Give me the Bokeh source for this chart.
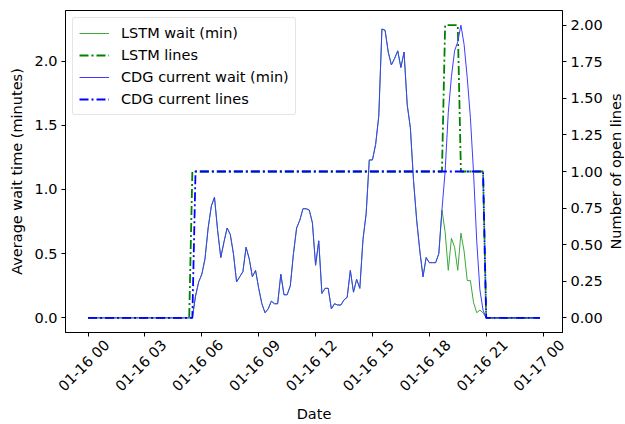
import numpy as np
import pandas as pd
from bokeh.plotting import figure
from bokeh.layouts import row
from bokeh.models import (Range1d, LinearAxis, FixedTicker, Legend, LegendItem,
                          ColumnDataSource, NumeralTickFormatter, Title)
from bokeh.embed import file_html
from bokeh.resources import INLINE

# ---------------- data ----------------
day = "2019-01-16"
times = pd.date_range(f"{day} 00:00", periods=144, freq="10min")

# wait values (minutes) every 10 min starting 05:40, ending 21:00; zero elsewhere
active_start = f"{day} 05:40"
cdg_wait_active = [
    0.17, 0.28, 0.34, 0.46, 0.70, 0.87, 0.94, 0.68, 0.47, 0.59, 0.70, 0.65,   # 05:40-07:30
    0.50, 0.28, 0.32, 0.36, 0.55, 0.46, 0.32, 0.37, 0.23, 0.11, 0.04, 0.07,   # 07:40-09:30
    0.13, 0.11, 0.11, 0.34, 0.18, 0.18, 0.25, 0.50, 0.70, 0.76, 0.85, 0.85,   # 09:40-11:30
    0.84, 0.74, 0.41, 0.60, 0.19, 0.23, 0.23, 0.07, 0.11, 0.10, 0.10, 0.14,   # 11:40-13:30
    0.16, 0.37, 0.20, 0.30, 0.23, 0.61, 0.81, 1.23, 1.23, 1.35, 1.57, 2.25,   # 13:40-15:30
    2.24, 2.07, 1.97, 2.02, 2.08, 1.95, 2.07, 1.66, 1.48, 1.07, 0.76, 0.52,   # 15:40-17:30
    0.32, 0.47, 0.43, 0.43, 0.43, 0.50, 0.84, 1.14, 1.60, 1.88, 2.08, 2.15,   # 17:40-19:30
    2.28, 2.13, 1.87, 1.56, 1.13, 0.60, 0.22, 0.06, 0.00,                     # 19:40-21:00
]
lstm_wait_active = [
    0.17, 0.28, 0.34, 0.46, 0.70, 0.87, 0.94, 0.68, 0.47, 0.59, 0.70, 0.65,
    0.50, 0.28, 0.32, 0.36, 0.55, 0.46, 0.32, 0.37, 0.23, 0.11, 0.04, 0.07,
    0.13, 0.11, 0.11, 0.34, 0.18, 0.18, 0.25, 0.50, 0.70, 0.76, 0.85, 0.85,
    0.84, 0.74, 0.41, 0.60, 0.19, 0.23, 0.23, 0.07, 0.11, 0.10, 0.10, 0.14,
    0.16, 0.37, 0.20, 0.30, 0.23, 0.61, 0.81, 1.23, 1.23, 1.35, 1.57, 2.25,
    2.24, 2.07, 1.97, 2.02, 2.08, 1.95, 2.07, 1.66, 1.48, 1.07, 0.76, 0.52,
    0.32, 0.47, 0.43, 0.43, 0.43, 0.50, 0.84, 0.67, 0.37, 0.62, 0.55, 0.37,
    0.66, 0.52, 0.29, 0.29, 0.12, 0.04, 0.06, 0.04, 0.00,
]
# number of open lines: (time from which the value holds, value)
cdg_lines_steps = [("00:00", 0), ("05:40", 1), ("21:00", 0)]
lstm_lines_steps = [("00:00", 0), ("05:30", 1), ("18:50", 2), ("19:40", 1), ("21:00", 0)]

left_ticks = [0.0, 0.5, 1.0, 1.5, 2.0]
right_ticks = [0.0, 0.25, 0.5, 0.75, 1.0, 1.25, 1.5, 1.75, 2.0]
x_ticks = pd.date_range(f"{day} 00:00", periods=9, freq="3h")

# ---------------- build full series ----------------
def pad(active):
    arr = np.zeros(len(times))
    i0 = times.get_loc(pd.Timestamp(active_start))
    arr[i0:i0 + len(active)] = active
    return arr

def steps(changes):
    arr = np.zeros(len(times))
    for hhmm, v in changes:
        arr[times >= pd.Timestamp(f"{day} {hhmm}")] = v
    return arr

src = ColumnDataSource(dict(
    t=times,
    cdg_wait=pad(cdg_wait_active),
    lstm_wait=pad(lstm_wait_active),
    cdg_lines=steps(cdg_lines_steps),
    lstm_lines=steps(lstm_lines_steps),
))

# matplotlib-like 5% margins
span = times[-1] - times[0]
x0 = times[0] - 0.05 * span
x1 = times[-1] + 0.05 * span
wmax = max(max(cdg_wait_active), max(lstm_wait_active))
ly0, ly1 = -0.05 * wmax, wmax * 1.05
FONT = "DejaVu Sans"
FS = "14.5px"
FW, FH = 497, 322
TOP, BOTTOM = 10, 88

p = figure(x_axis_type="datetime", frame_width=FW, frame_height=FH,
           min_border_left=65, min_border_top=TOP, min_border_right=36, min_border_bottom=BOTTOM,
           x_range=Range1d(x0, x1), y_range=Range1d(ly0, ly1),
           output_backend="svg", toolbar_location=None)
p.extra_y_ranges = {"lines": Range1d(-0.1, 2.1)}
p.xgrid.visible = False
p.ygrid.visible = False
p.outline_line_color = "black"
p.outline_line_width = 1
p.outline_line_alpha = 1
p.background_fill_color = "white"
p.border_fill_color = "white"

r1 = p.line("t", "lstm_wait", source=src, line_color="#3aa83a", line_width=1)
r2 = p.line("t", "lstm_lines", source=src, y_range_name="lines", line_color="green",
            line_width=1.8, line_dash="9 3 2 3")
r3 = p.line("t", "cdg_wait", source=src, line_color="#3d3dff", line_width=1)
r4 = p.line("t", "cdg_lines", source=src, y_range_name="lines", line_color="blue",
            line_width=1.8, line_dash="9 3 2 3")

# x axis: tick marks (minor ticks) at the real times; rotated labels centred under
# them like matplotlib's, by placing the (unmarked) major ticks a few pixels to the right
px_per_ms = FW / ((x1 - x0).value / 1e6)
tick_ms = [int(t.value // 1_000_000) for t in x_ticks]
shift_ms = int(round(19 / px_per_ms))
lab_ticks = [m + shift_ms for m in tick_ms]
xa = p.xaxis[0]
xa.ticker = FixedTicker(ticks=lab_ticks, minor_ticks=tick_ms)
xa.major_label_overrides = {m + shift_ms: t.strftime("%m-%d %H") for m, t in zip(tick_ms, x_ticks)}
xa.major_label_orientation = np.pi / 4
xa.major_tick_line_color = None
xa.major_tick_out = 4
xa.major_tick_in = 0
xa.minor_tick_line_color = "black"
xa.minor_tick_out = 4
xa.minor_tick_in = 0
xa.major_label_standoff = 6
xa.axis_label = "Date"
xa.axis_label_standoff = 3

la = p.yaxis[0]
la.ticker = FixedTicker(ticks=left_ticks)
la.formatter = NumeralTickFormatter(format="0.0")
la.axis_label = "Average wait time (minutes)"
la.axis_label_standoff = 6

raxis = LinearAxis(y_range_name="lines", ticker=FixedTicker(ticks=right_ticks),
                   formatter=NumeralTickFormatter(format="0.00"))
p.add_layout(raxis, "right")

for ax in [xa, la, raxis]:
    ax.axis_line_color = "black"
    ax.major_label_text_font = FONT
    ax.major_label_text_font_size = FS
    ax.major_label_text_color = "black"
    ax.axis_label_text_font = FONT
    ax.axis_label_text_font_size = FS
    ax.axis_label_text_font_style = "normal"
    ax.axis_label_text_color = "black"
for ax in [la, raxis]:
    ax.major_tick_line_color = "black"
    ax.major_tick_out = 4
    ax.major_tick_in = 0
    ax.minor_tick_out = 0
    ax.minor_tick_in = 0
    ax.major_label_standoff = 4

legend = Legend(items=[
    LegendItem(label="LSTM wait (min)", renderers=[r1]),
    LegendItem(label="LSTM lines", renderers=[r2]),
    LegendItem(label="CDG current wait (min)", renderers=[r3]),
    LegendItem(label="CDG current lines", renderers=[r4]),
], location="top_left")
legend.margin = 7
legend.padding = 6
legend.spacing = 4
legend.glyph_width = 30
legend.glyph_height = 18
legend.label_height = 18
legend.label_standoff = 12
legend.label_text_font = FONT
legend.label_text_font_size = FS
legend.label_text_color = "black"
legend.border_line_color = "#cccccc"
legend.border_line_width = 1
legend.background_fill_alpha = 0.8
if "border_radius" in legend.properties():
    legend.border_radius = 3
p.add_layout(legend)

# right-hand axis title, reading bottom-to-top as in the reference: a narrow strip
# whose left-side title sits right of the plot
rtitle = Title(text="Number of open lines", align="center", text_font=FONT,
               text_font_size=FS, text_font_style="normal", text_color="black",
               standoff=0, offset=0)
q = figure(frame_width=1, frame_height=FH, min_border_left=0, min_border_right=0,
           min_border_top=TOP, min_border_bottom=BOTTOM, x_axis_type=None, y_axis_type=None,
           output_backend="svg", toolbar_location=None, title=rtitle, title_location="left")
q.outline_line_color = None
q.xgrid.visible = False
q.ygrid.visible = False
q.background_fill_color = "white"
q.border_fill_color = "white"

layout = row(p, q, spacing=0)
open("out.html", "w").write(file_html(layout, INLINE))
